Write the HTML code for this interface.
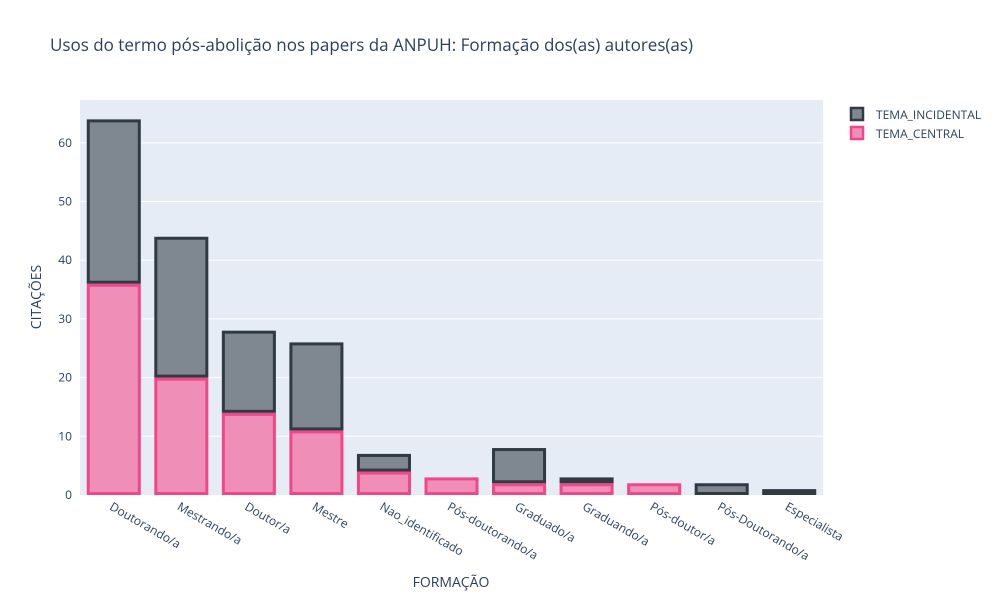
<!DOCTYPE html>
<html><head><meta charset="utf-8"><style>
body{margin:0;background:#fff;font-family:"Open Sans","Liberation Sans",sans-serif}
svg text{font-family:"Open Sans","Liberation Sans",sans-serif;fill:#2a3f5f}
</style></head><body>
<svg id="chart" width="1000" height="600" xmlns="http://www.w3.org/2000/svg">
<rect width="1000" height="600" fill="#fff"/>
<text x="50" y="51" font-size="17">Usos do termo pós-abolição nos papers da ANPUH: Formação dos(as) autores(as)</text>
<rect x="80" y="100" width="743" height="395" fill="#e5ecf6"/>
<g id="grid"></g><g id="bars"></g><g id="xt"></g><g id="yt"></g>
<text x="451" y="587" font-size="14" text-anchor="middle">FORMAÇÃO</text>
<text transform="translate(41,297) rotate(-90)" font-size="14" text-anchor="middle">CITAÇÕES</text>
<g>
<g><rect x="851" y="108" width="12" height="12" fill="#7f8790" stroke="#2f3a44" stroke-width="2.5"/><text x="876" y="119" font-size="12">TEMA_INCIDENTAL</text></g>
<g><rect x="851" y="127" width="12" height="12" fill="#ef8fb8" stroke="#f0468a" stroke-width="2.5"/><text x="876" y="138" font-size="12">TEMA_CENTRAL</text></g>
</g>
</svg>
<script>
const categories=["Doutorando/a","Mestrando/a","Doutor/a","Mestre","Nao_identificado","Pós-doutorando/a","Graduado/a","Graduando/a","Pós-doutor/a","Pós-Doutorando/a","Especialista"];
const central=[36,20,14,11,4,3,2,2,2,0,0];
const incidental=[28,24,14,15,3,0,6,1,0,2,1];
const yTicks=[0,10,20,30,40,50,60];
const NS="http://www.w3.org/2000/svg";
const X0=80,W=743,Y0=495,YMAX=67.3,H=395;
const y=v=>Y0-v/YMAX*H;
const band=W/categories.length;
const xc=i=>X0+band*(i+0.5);
const bw=band*0.8;
function mk(t,a,p){const e=document.createElementNS(NS,t);for(const k in a)e.setAttribute(k,a[k]);p.appendChild(e);return e;}
const grid=document.getElementById('grid'),yt=document.getElementById('yt'),xt=document.getElementById('xt'),bars=document.getElementById('bars');
yTicks.forEach(v=>{
  if(v>0){const l=mk('line',{x1:X0,x2:X0+W,y1:y(v),y2:y(v),stroke:'#fff','stroke-width':1},grid);
  
  }
  const t=mk('text',{x:72,y:y(v)+4,'font-size':12,'text-anchor':'end'},yt);t.textContent=v;
  
  
});
categories.forEach((c,i)=>{
  const b1=mk('rect',{x:xc(i)-bw/2+1.5,y:y(central[i])+1.5,width:bw-3,height:Math.max(0,y(0)-y(central[i])-3),fill:'#ef8fb8',stroke:'#f0468a','stroke-width':3},bars);
  
  
  if(central[i]===0)b1.setAttribute('stroke-width',0);
  const top=central[i]+incidental[i];
  const b2=mk('rect',{x:xc(i)-bw/2+1.5,y:y(top)+1.5,width:bw-3,height:Math.max(0,y(central[i])-y(top)-3),fill:'#7f8790',stroke:'#2f3a44','stroke-width':3},bars);
  
  
  if(incidental[i]===0)b2.setAttribute('stroke-width',0);
  const t=mk('text',{transform:`translate(${xc(i)-5},${509}) rotate(30)`,'font-size':12},xt);t.textContent=c;
  
  
});
</script>
</body></html>
